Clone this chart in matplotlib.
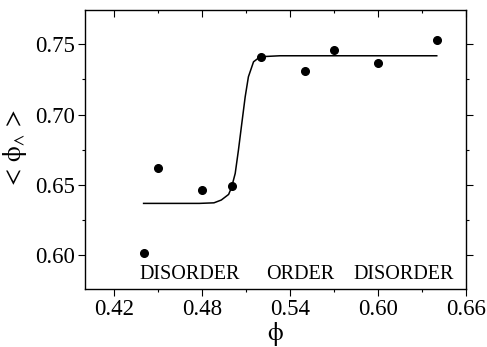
import matplotlib
matplotlib.use("Agg")
import matplotlib.pyplot as plt
from matplotlib.ticker import MultipleLocator

# measured points
phi = [0.440, 0.450, 0.480, 0.500, 0.520, 0.550, 0.570, 0.600, 0.640]
phi_lambda = [0.601, 0.662, 0.646, 0.649, 0.741, 0.731, 0.746, 0.737, 0.753]

# fitted step curve
fit_x = [0.440, 0.478, 0.488, 0.493, 0.498, 0.500, 0.5025, 0.5047, 0.507,
         0.5093, 0.5115, 0.515, 0.5195, 0.533, 0.640]
fit_y = [0.6366, 0.6366, 0.637, 0.639, 0.643, 0.648, 0.658, 0.6746, 0.6937,
         0.7126, 0.7269, 0.7376, 0.7412, 0.7419, 0.7419]

regions = ["DISORDER", "ORDER", "DISORDER"]
region_x = [0.437, 0.5234, 0.5833]

plt.rcParams['font.family'] = ['Liberation Serif', 'DejaVu Serif']
plt.rcParams['mathtext.fontset'] = 'stix'
plt.rcParams['mathtext.default'] = 'rm'

fig = plt.figure(figsize=(4.87, 3.47), dpi=100)
ax = fig.add_axes([0.1745, 0.167, 0.7825, 0.804])

ax.plot(fit_x, fit_y, color='black', lw=1.1)
ax.plot(phi, phi_lambda, 'o', color='black', ms=5.5)

for label, x in zip(regions, region_x):
    ax.text(x, 0.5827, label, fontsize=14.5, va='baseline', ha='left')

ax.set_xlim(0.40, 0.66)
ax.set_ylim(0.5755, 0.7745)
ax.xaxis.set_minor_locator(MultipleLocator(0.03))
ax.yaxis.set_minor_locator(MultipleLocator(0.025))
ax.set_xticks([0.42, 0.48, 0.54, 0.60, 0.66])
ax.set_xticklabels(['0.42', '0.48', '0.54', '0.60', '0.66'])
ax.set_yticks([0.60, 0.65, 0.70, 0.75])
ax.set_yticklabels(['0.60', '0.65', '0.70', '0.75'])

ax.tick_params(which='both', direction='out', labelsize=16.5, width=0.8,
               top=True, right=True)
ax.tick_params(which='major', length=5, pad=2.5)
ax.tick_params(which='minor', length=2.5)
# top and right ticks point into the frame
for t in ax.xaxis.get_ticklines(minor=False)[1::2] + ax.xaxis.get_ticklines(minor=True)[1::2]:
    t.set_marker(3)
for t in ax.yaxis.get_ticklines(minor=False)[1::2] + ax.yaxis.get_ticklines(minor=True)[1::2]:
    t.set_marker(1)
for s in ax.spines.values():
    s.set_linewidth(1.0)

ax.set_xlabel(r'$\phi$', fontsize=18, labelpad=0)
ax.set_ylabel(r'$<\,\phi_{\wedge}\,>$', fontsize=18, labelpad=4)

fig.savefig('out.png', dpi=100)
